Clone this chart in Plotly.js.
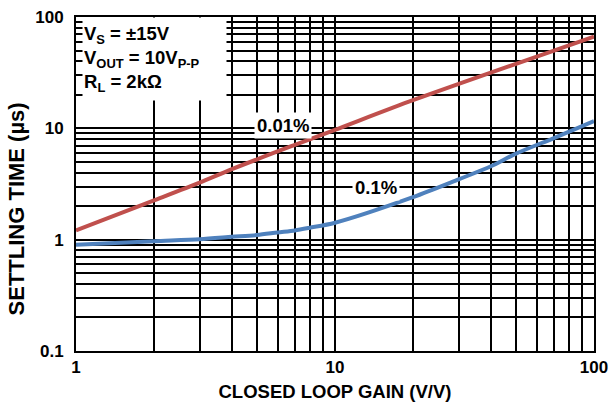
<!DOCTYPE html>
<html>
<head>
<meta charset="utf-8">
<script src="https://cdn.plot.ly/plotly-3.0.1.min.js"></script>
<style>html,body{margin:0;padding:0;background:#fff;}#chart{width:613px;height:404px;}</style>
</head>
<body>
<div id="chart"></div>
<script>
// Data
const gain001 = [1, 2, 3, 4, 7, 10, 20, 50, 100];
const settle001 = [1.21, 2.25, 3.25, 4.3, 7.1, 9.7, 17.9, 38, 66.5];
const gain01 = [1, 2, 3, 4, 5, 6, 7, 8, 10, 20, 30, 40, 50, 70, 100];
const settle01 = [0.90, 0.97, 1.01, 1.06, 1.10, 1.16, 1.21, 1.28, 1.42, 2.41, 3.48, 4.56, 5.93, 8.18, 11.6];
const xTickVals = [1, 10, 100];
const xTickText = ['1', '10', '100'];
const yTickVals = [0.1, 1, 10, 100];
const yTickText = ['0.1', '1', '10', '100'];
const seriesNames = ['0.01%', '0.1%'];
const xTitle = 'CLOSED LOOP GAIN (V/V)';
const yTitle = 'SETTLING TIME (µs)';

const FONT = 'Liberation Sans, Arial, Helvetica, sans-serif';

const traces = [
  {x: gain001, y: settle001, name: seriesNames[0], mode: 'lines',
   line: {color: '#C0504D', width: 4, shape: 'spline', smoothing: 0.8}},
  {x: gain01, y: settle01, name: seriesNames[1], mode: 'lines',
   line: {color: '#4F81BD', width: 4, shape: 'spline', smoothing: 0.8}}
];

const axisCommon = {
  type: 'log',
  showgrid: true, gridcolor: '#000', gridwidth: 2,
  minor: {showgrid: true, gridcolor: '#000', gridwidth: 2, dtick: 'D1', ticks: ''},
  showline: true, linecolor: '#000', linewidth: 2, mirror: true,
  ticks: '', ticklen: 0, zeroline: false,
  tickmode: 'array',
  tickfont: {family: FONT, size: 17, color: '#000', weight: 'bold'},
  automargin: false
};

const layout = {
  width: 613, height: 404,
  margin: {l: 76, r: 19, t: 17, b: 53},
  paper_bgcolor: '#fff', plot_bgcolor: '#fff',
  showlegend: false,
  font: {family: FONT, color: '#000'},
  xaxis: Object.assign({}, axisCommon, {
    range: [0, 2], tickvals: xTickVals, ticktext: xTickText,
    ticklabelstandoff: 0,
    title: {text: xTitle, font: {family: FONT, size: 18.5, color: '#000', weight: 'bold'}, standoff: 9}
  }),
  yaxis: Object.assign({}, axisCommon, {
    range: [-1, 2], tickvals: yTickVals, ticktext: yTickText,
    ticklabelstandoff: 7
  }),
  annotations: [
    {xref: 'paper', yref: 'paper', x: -60 / 518.5, y: 0.424, xanchor: 'center', yanchor: 'middle',
     text: yTitle, textangle: -90, showarrow: false,
     font: {family: FONT, size: 22, color: '#000', weight: 'bold'}},
    {xref: 'paper', yref: 'paper', x: 0.0116, y: 1, xanchor: 'left', yanchor: 'top',
     text: 'V<sub>S</sub> = ±15V<br>V<sub>OUT</sub> = 10V<sub>P-P</sub><br>R<sub>L</sub> = 2kΩ',
     showarrow: false, align: 'left', bgcolor: '#fff', width: 141, height: 80, valign: 'middle',
     borderpad: 1,
     font: {family: FONT, size: 18.5, color: '#000', weight: 'bold'}},
    {x: Math.log10(6.3), y: Math.log10(10.6), xref: 'x', yref: 'y', text: seriesNames[0],
     showarrow: false, bgcolor: '#fff', borderpad: 2,
     font: {family: FONT, size: 18.5, color: '#000', weight: 'bold'}},
    {x: Math.log10(14.4), y: Math.log10(2.95), xref: 'x', yref: 'y', text: seriesNames[1],
     showarrow: false, bgcolor: '#fff', borderpad: 2,
     font: {family: FONT, size: 18.5, color: '#000', weight: 'bold'}}
  ]
};

Plotly.newPlot('chart', traces, layout, {staticPlot: true, displayModeBar: false});
</script>
</body>
</html>
